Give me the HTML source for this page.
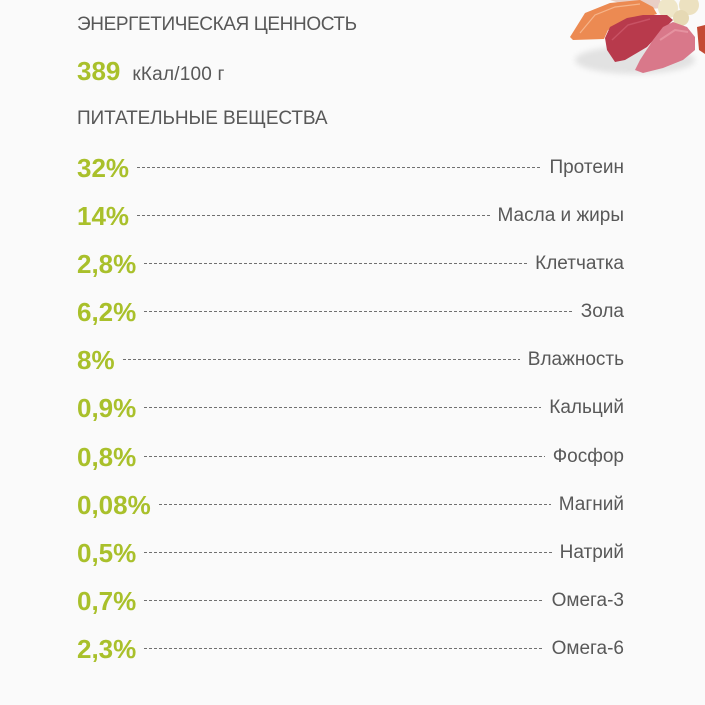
<!DOCTYPE html>
<html><head><meta charset="utf-8">
<style>
html,body{margin:0;padding:0;}
body{width:705px;height:705px;background:#fafafa;position:relative;overflow:hidden;font-family:"Liberation Sans","Noto Sans CJK JP",sans-serif;color:#585858;}
.h{position:absolute;left:77px;font-size:19px;line-height:19px;white-space:nowrap;}
.kcal{position:absolute;left:77px;top:58px;white-space:nowrap;line-height:26px;}
.kcal b{color:#a9c02b;font-size:26px;font-weight:bold;}
.kcal span{font-size:19px;margin-left:12px;letter-spacing:0.2px;}
.row{position:absolute;left:77px;width:547px;height:26px;display:flex;align-items:center;white-space:nowrap;}
.p{font-size:26px;line-height:26px;font-weight:bold;color:#a9c02b;}
.d{flex:1;height:1px;margin:0 8px;align-self:flex-start;margin-top:12px;background-image:linear-gradient(to right,#707070 60%,transparent 60%);background-size:5px 1px;background-repeat:repeat-x;}
.l{font-size:19px;line-height:26px;color:#585858;}
</style></head><body>
<svg style="position:absolute;left:560px;top:0" width="145" height="80" viewBox="560 0 145 80">
<defs><filter id="bl" x="-20%" y="-20%" width="140%" height="140%"><feGaussianBlur stdDeviation="3"/></filter></defs>
<ellipse cx="635" cy="60" rx="60" ry="14" fill="#d8d8d8" filter="url(#bl)" opacity="0.7"/>
<path d="M610 0 L660 0 L662 8 L640 10 Z" fill="#e9cfc6"/>
<circle cx="668" cy="8" r="10" fill="#efe6c8"/>
<circle cx="689" cy="5" r="10" fill="#ece1c0"/>
<circle cx="681" cy="18" r="8" fill="#e6d9b4"/>
<path d="M697 27 L705 25 L705 54 L699 50 Z" fill="#c44a34"/>
<path d="M570 37 L585 13 L610 3 L640 0 L653 7 L657 14 L630 22 L608 30 L604 39 L573 40 Z" fill="#ec8a52"/>
<path d="M580 33 L595 15 L615 7 L640 4" stroke="#f6b48a" stroke-width="1.2" fill="none"/>
<path d="M605 38 L610 27 L627 18 L643 15 L667 15 L673 20 L660 33 L647 47 L625 60 L615 62 L607 50 Z" fill="#b83a4c"/>
<path d="M612 40 L628 25 L650 19" stroke="#c85264" stroke-width="1.5" fill="none"/>
<path d="M635 70 L640 60 L653 40 L663 27 L673 22 L687 27 L695 37 L695 50 L683 60 L663 68 L643 73 Z" fill="#d9788a"/>
<path d="M660 40 L675 30 L688 32" stroke="#e592a0" stroke-width="2" fill="none"/>
</svg>
<div class="h" style="top:14.6px;letter-spacing:-0.4px">ЭНЕРГЕТИЧЕСКАЯ ЦЕННОСТЬ</div>
<div class="kcal"><b>389</b><span>кКал/100 г</span></div>
<div class="h" style="top:109.4px;letter-spacing:-0.1px">ПИТАТЕЛЬНЫЕ ВЕЩЕСТВА</div>

<div class="row" style="top:155px"><span class="p">32%</span><span class="d"></span><span class="l">Протеин</span></div>
<div class="row" style="top:203px"><span class="p">14%</span><span class="d"></span><span class="l">Масла и жиры</span></div>
<div class="row" style="top:251px"><span class="p">2,8%</span><span class="d"></span><span class="l">Клетчатка</span></div>
<div class="row" style="top:299px"><span class="p">6,2%</span><span class="d"></span><span class="l">Зола</span></div>
<div class="row" style="top:347px"><span class="p">8%</span><span class="d"></span><span class="l">Влажность</span></div>
<div class="row" style="top:395px"><span class="p">0,9%</span><span class="d"></span><span class="l">Кальций</span></div>
<div class="row" style="top:443.5px"><span class="p">0,8%</span><span class="d"></span><span class="l">Фосфор</span></div>
<div class="row" style="top:491.5px"><span class="p">0,08%</span><span class="d"></span><span class="l">Магний</span></div>
<div class="row" style="top:539.5px"><span class="p">0,5%</span><span class="d"></span><span class="l">Натрий</span></div>
<div class="row" style="top:587.5px"><span class="p">0,7%</span><span class="d"></span><span class="l">Омега-3</span></div>
<div class="row" style="top:635.5px"><span class="p">2,3%</span><span class="d"></span><span class="l">Омега-6</span></div>
</body></html>
